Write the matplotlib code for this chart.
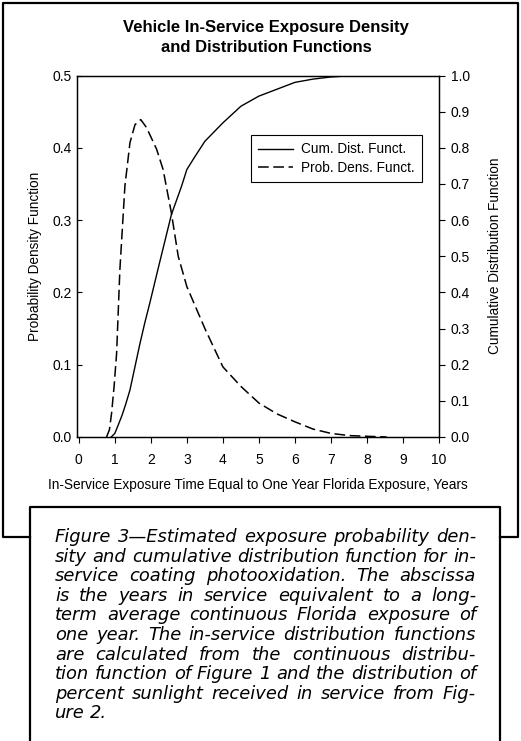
import matplotlib
matplotlib.use("Agg")
from matplotlib import pyplot as plt
from matplotlib.lines import Line2D

plt.rcParams['font.family'] = ['Liberation Sans', 'DejaVu Sans']

# probability density function (left axis)
pdf_x = [0.77, 0.85, 0.91, 0.98, 1.05, 1.14, 1.28, 1.42, 1.56, 1.72, 1.88, 2.16, 2.34,
         2.57, 2.76, 3.0, 3.5, 4.0, 4.5, 5.0, 5.5, 6.0, 6.5, 7.0, 7.5, 8.0, 8.55]
pdf_y = [0.0, 0.01, 0.033, 0.07, 0.116, 0.231, 0.347, 0.407, 0.432, 0.439, 0.428, 0.398, 0.370,
         0.310, 0.250, 0.208, 0.150, 0.097, 0.070, 0.047, 0.032, 0.021, 0.011, 0.005, 0.002, 0.001, 0.0]

# cumulative distribution function (right axis)
cdf_x = [0.9, 1.0, 1.09, 1.2, 1.3, 1.42, 1.55, 1.69, 1.83, 1.97, 2.2, 2.57, 2.85, 3.0, 3.22, 3.5,
         4.0, 4.5, 5.0, 5.5, 6.0, 6.5, 7.0, 7.5, 8.0, 10.0]
cdf_y = [0.0, 0.01, 0.032, 0.06, 0.09, 0.13, 0.19, 0.255, 0.315, 0.37, 0.465, 0.615, 0.693, 0.74, 0.775, 0.818,
         0.869, 0.915, 0.943, 0.962, 0.981, 0.99, 0.996, 0.999, 1.0, 1.0]

x_ticks = list(range(11))
pdf_ticks = [0.0, 0.1, 0.2, 0.3, 0.4, 0.5]
cdf_ticks = [0.0, 0.1, 0.2, 0.3, 0.4, 0.5, 0.6, 0.7, 0.8, 0.9, 1.0]

title = "Vehicle In-Service Exposure Density\nand Distribution Functions"
caption = [
    "Figure 3\u2014Estimated exposure probability den-",
    "sity and cumulative distribution function for in-",
    "service coating photooxidation. The abscissa",
    "is the years in service equivalent to a long-",
    "term average continuous Florida exposure of",
    "one year. The in-service distribution functions",
    "are calculated from the continuous distribu-",
    "tion function of Figure 1 and the distribution of",
    "percent sunlight received in service from Fig-",
    "ure 2.",
]

W, H = 521, 741
fig = plt.figure(figsize=(W / 100, H / 100), dpi=100)


def fx(px):
    return px / W


def fy(py):
    return 1 - py / H


# frames around chart and caption
fig.add_artist(Line2D([fx(30), fx(3), fx(3), fx(518), fx(518), fx(500)],
                      [fy(537), fy(537), fy(3), fy(3), fy(537), fy(537)],
                      color='black', lw=1.6, transform=fig.transFigure))
fig.add_artist(Line2D([fx(30), fx(30), fx(500), fx(500)],
                      [fy(745), fy(507), fy(507), fy(745)],
                      color='black', lw=1.6, transform=fig.transFigure))

fig.text(fx(266), fy(37.5), title, ha='center', va='center', fontsize=12,
         fontweight='bold', linespacing=1.35)

ax = fig.add_axes([fx(77), fy(437), (439 - 77) / W, (437 - 75.5) / H])
l1, = ax.plot(pdf_x, pdf_y, color='black', lw=1.1, dashes=(7, 3), label='Prob. Dens. Funct.')
ax.set_xlim(-0.05, 10)
ax.set_ylim(0, 0.5)
ax.set_xticks(x_ticks)
ax.set_yticks(pdf_ticks)
ax.set_yticklabels(['%.1f' % v for v in pdf_ticks])
ax.tick_params(axis='x', direction='out', length=4.5, width=0.8, pad=7, labelsize=10)
ax.tick_params(axis='y', direction='in', length=3.5, width=0.8, pad=4, labelsize=10)
ax.set_xlabel('In-Service Exposure Time Equal to One Year Florida Exposure, Years',
              fontsize=9.8, labelpad=8)
ax.set_ylabel('Probability Density Function', fontsize=9.8, labelpad=7)

ax2 = ax.twinx()
l2, = ax2.plot(cdf_x, cdf_y, color='black', lw=1.0, label='Cum. Dist. Funct.')
ax2.set_ylim(0, 1)
ax2.set_yticks(cdf_ticks)
ax2.set_yticklabels(['%.1f' % v for v in cdf_ticks])
ax2.tick_params(axis='y', direction='out', length=4.5, width=0.8, pad=4, labelsize=10)
ax2.set_ylabel('Cumulative Distribution Function', fontsize=9.8, labelpad=13)
for a in (ax, ax2):
    for s in a.spines.values():
        s.set_linewidth(0.9)

leg = ax2.legend([l2, l1], ['Cum. Dist. Funct.', 'Prob. Dens. Funct.'],
                 loc='upper left', bbox_to_anchor=(fx(251), fy(135)),
                 bbox_transform=fig.transFigure, borderaxespad=0, fancybox=False,
                 framealpha=1, edgecolor='black', fontsize=9.8, handlelength=2.5,
                 handletextpad=0.6, borderpad=0.55, labelspacing=0.3)
leg.get_frame().set_linewidth(0.8)

# caption, justified line by line
renderer = fig.canvas.get_renderer()
cap_kw = dict(family=['DejaVu Sans'], style='italic', va='baseline')
trial = 12.0
space_w = fig.text(0, 0, 'a a', fontsize=trial, **cap_kw)
aa = fig.text(0, 0, 'aa', fontsize=trial, **cap_kw)
sp = space_w.get_window_extent(renderer).width - aa.get_window_extent(renderer).width
space_w.remove()
aa.remove()
natural = []
for line in caption:
    t = fig.text(0, 0, line, fontsize=trial, **cap_kw)
    natural.append(t.get_window_extent(renderer).width)
    t.remove()
x0, x1 = 55, 476
size = trial * (x1 - x0) / max(natural)

for i, line in enumerate(caption):
    words = line.split(' ')
    texts = [fig.text(0, fy(542 + i * 19.6), w, fontsize=size, **cap_kw) for w in words]
    widths = [t.get_window_extent(renderer).width for t in texts]
    if i < len(caption) - 1 and len(words) > 1:
        gap = (x1 - x0 - sum(widths)) / (len(words) - 1)
    else:
        gap = sp * size / trial
    x = x0
    for t, w in zip(texts, widths):
        t.set_x(fx(x))
        x += w + gap

fig.savefig('out.png', dpi=100)
